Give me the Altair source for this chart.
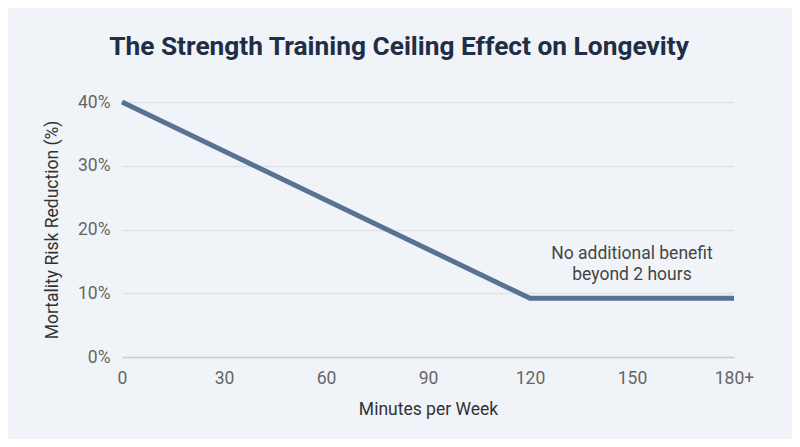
import altair as alt
import pandas as pd

minutes = [0, 120, 180]
reduction = [40, 9.2, 9.2]
x_ticks = [0, 30, 60, 90, 120, 150, 180]
y_ticks = [0, 10, 20, 30, 40]
note_x = [150]
note_y = [16.2]
note_text = [["No additional benefit", "beyond 2 hours"]]

df = pd.DataFrame({"minutes": minutes, "reduction": reduction})
notes = pd.DataFrame({"x": note_x, "y": note_y, "label": note_text})

FONT = "Roboto"

x_enc = alt.X(
    "minutes:Q",
    scale=alt.Scale(domain=[0, 180], nice=False, zero=True),
    axis=alt.Axis(
        values=x_ticks,
        labelExpr="datum.value == 180 ? '180+' : datum.label",
        title="Minutes per Week",
        grid=False,
        ticks=False,
        domain=True,
        domainColor="#c9ccd1",
        domainWidth=1.5,
        labelFlush=False,
        labelPadding=12,
        labelFontSize=17.5,
        labelColor="#666666",
        labelFont=FONT,
        titleFont=FONT,
        titleFontSize=17.5,
        titleFontWeight="normal",
        titleColor="#333333",
        titlePadding=14,
    ),
)
y_enc = alt.Y(
    "reduction:Q",
    scale=alt.Scale(domain=[0, 40], nice=False),
    axis=alt.Axis(
        values=y_ticks,
        labelExpr="datum.value + '%'",
        title="Mortality Risk Reduction (%)",
        grid=True,
        gridColor="#dfe2e7",
        gridWidth=1.5,
        ticks=False,
        domain=False,
        labelPadding=12,
        labelFontSize=17.5,
        labelColor="#666666",
        labelFont=FONT,
        titleFont=FONT,
        titleFontSize=17.5,
        titleFontWeight="normal",
        titleColor="#333333",
        titlePadding=16,
    ),
)

line = alt.Chart(df).mark_line(color="#5a7292", strokeWidth=5, strokeJoin="miter").encode(
    x=x_enc, y=y_enc
)

note = alt.Chart(notes).mark_text(
    font=FONT, fontSize=17.5, color="#444444", align="center", baseline="middle", lineHeight=21
).encode(x="x:Q", y="y:Q", text="label")

chart = (
    alt.layer(line, note)
    .properties(
        width=612,
        height=255,
        background="#f0f4f9",
        padding={"left": 114, "top": 94, "right": 58, "bottom": 82},
        autosize=alt.AutoSizeParams(type="none"),
        title=alt.TitleParams(
            "The Strength Training Ceiling Effect on Longevity",
            font=FONT,
            fontSize=26.3,
            fontWeight="bold",
            color="#1f2d45",
            anchor="middle",
            dx=-29,
            offset=32,
        ),
    )
    .configure_view(stroke=None)
)

chart.save("out.html", embed_options={"renderer": "svg", "actions": False})
